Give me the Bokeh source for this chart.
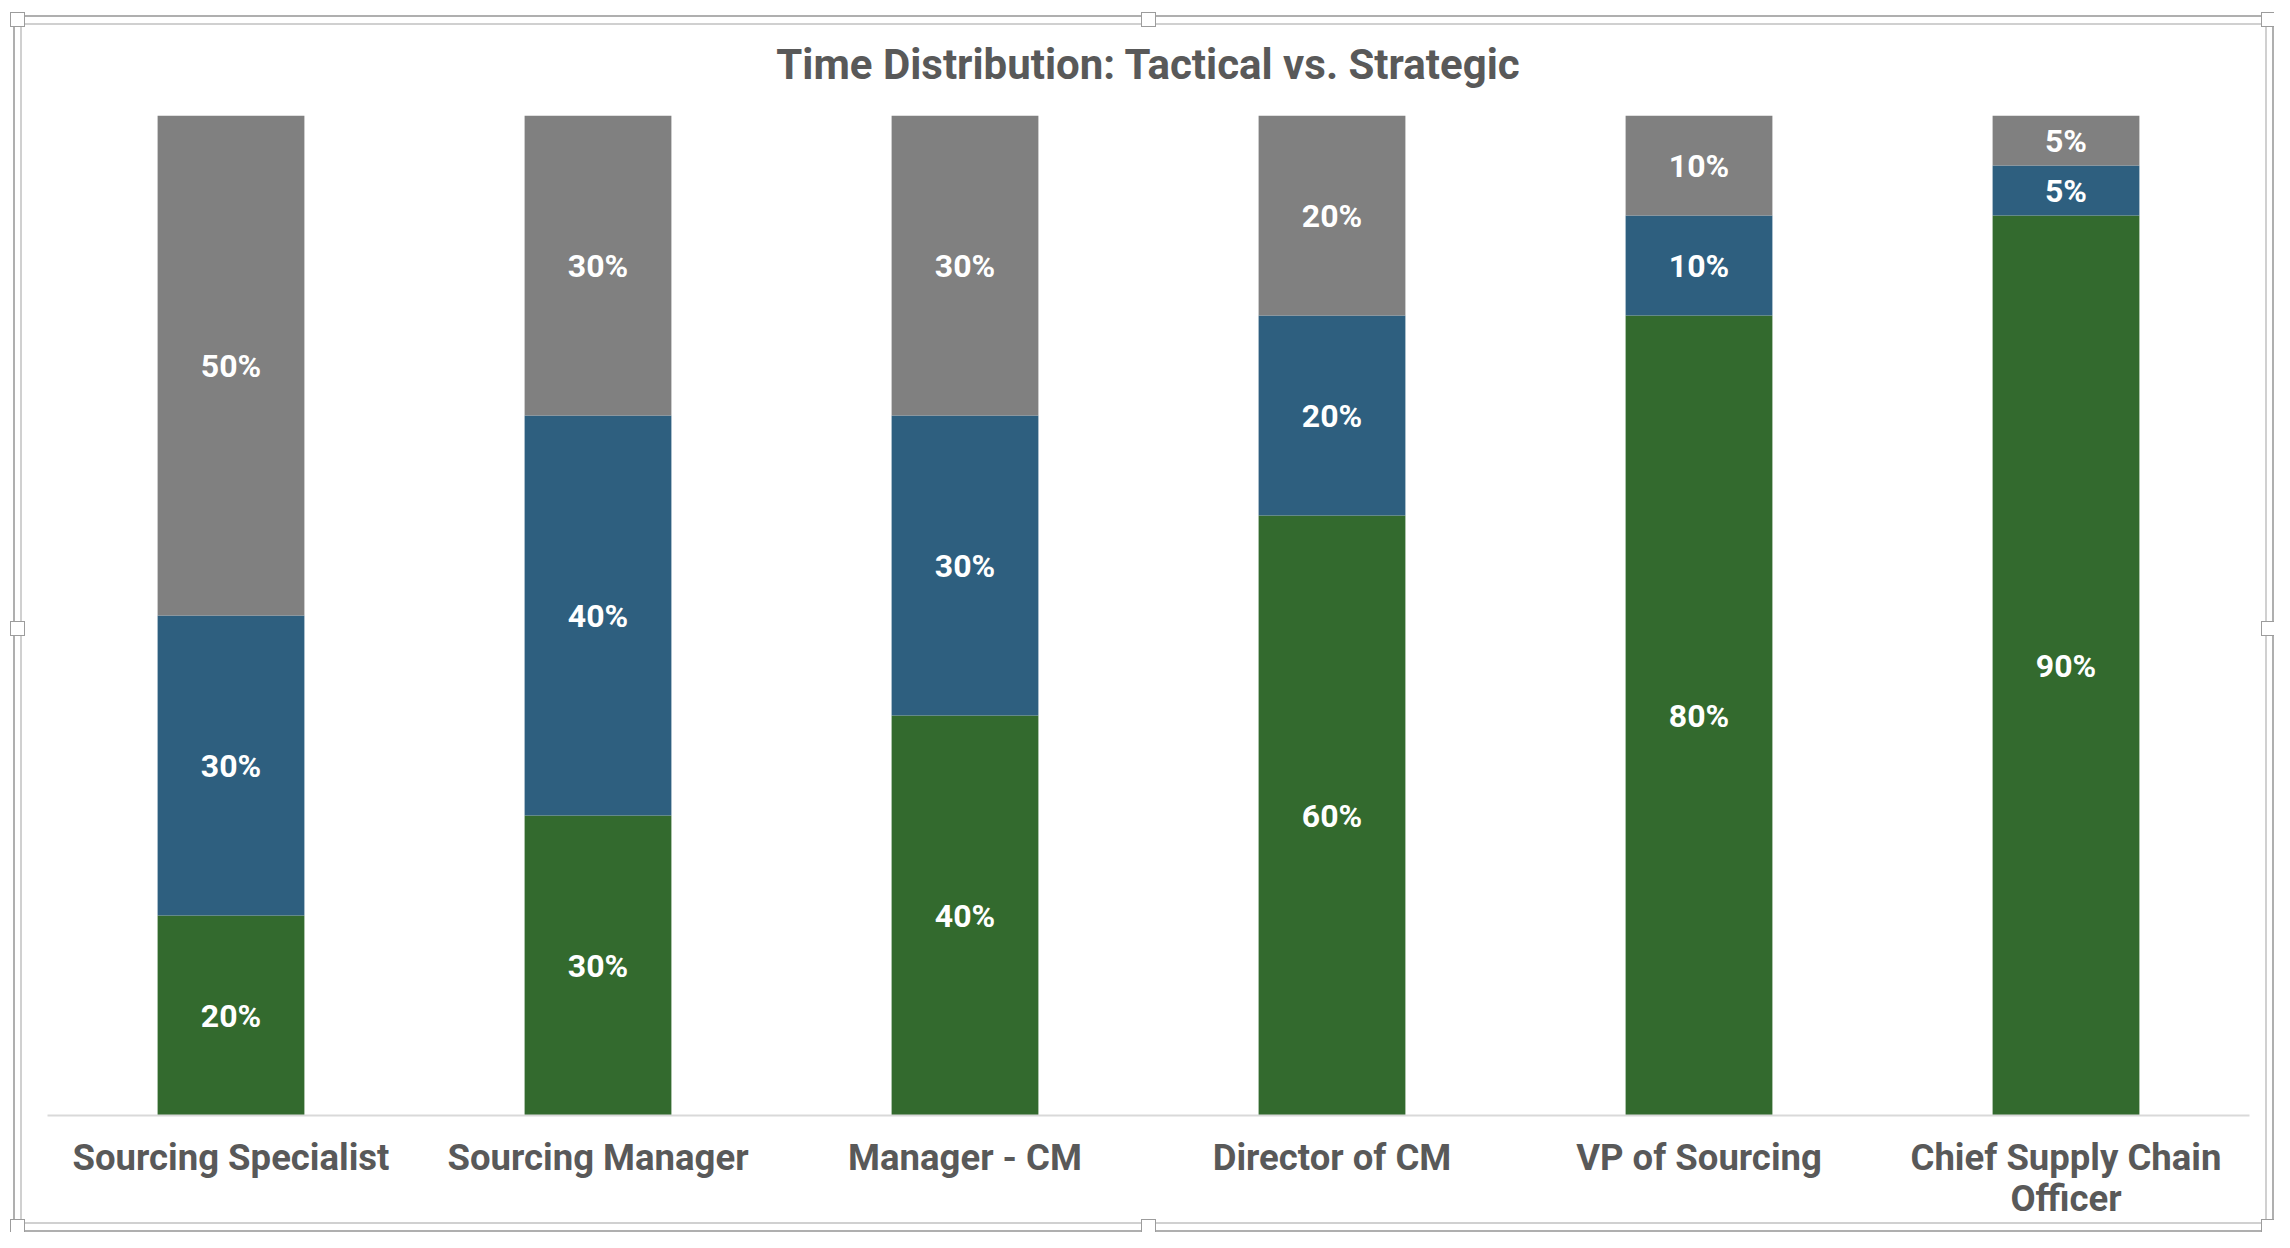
from bokeh.plotting import figure
from bokeh.models import ColumnDataSource, LabelSet, Range1d, FactorRange
from bokeh.core.properties import value
from bokeh.embed import file_html
from bokeh.resources import INLINE

# ---- data ----
roles = ["Sourcing Specialist", "Sourcing Manager", "Manager - CM",
         "Director of CM", "VP of Sourcing", "Chief Supply Chain\nOfficer"]
strategic = [20, 30, 40, 60, 80, 90]
mixed = [30, 40, 30, 20, 10, 5]
tactical = [50, 30, 30, 20, 10, 5]
series = ["strategic", "mixed", "tactical"]
colors = ["#336a2e", "#2e5f7f", "#808080"]
title_text = "Time Distribution: Tactical vs. Strategic"

FONT = "Roboto"
TEXT_COLOR = "#595959"
W, H = 2274, 1232

src = ColumnDataSource(dict(role=roles, strategic=strategic, mixed=mixed, tactical=tactical))

p = figure(x_range=FactorRange(*roles), y_range=Range1d(0, 100),
           width=W, height=H, output_backend="svg", toolbar_location=None,
           min_border_left=47, min_border_right=25, min_border_top=115, min_border_bottom=117,
           border_fill_alpha=0)

p.vbar_stack(series, x="role", width=0.4, color=colors, source=src, line_width=0)

# segment labels
lx, ly, lt = [], [], []
for i, r in enumerate(roles):
    base = 0
    for vals in (strategic, mixed, tactical):
        v = vals[i]
        lx.append(r)
        ly.append(base + v / 2)
        lt.append(f"{v}%")
        base += v
lsrc = ColumnDataSource(dict(x=lx, y=ly, t=lt))
p.add_layout(LabelSet(x="x", y="y", text="t", source=lsrc, text_color="white",
                      text_font=value(FONT), text_font_style="bold", text_font_size="32px",
                      text_align="center", text_baseline="middle"))

# title
p.title.text = title_text
p.title.align = "center"
p.title.text_font = FONT
p.title.text_font_style = "bold"
p.title.text_font_size = "42px"
p.title.text_color = TEXT_COLOR
p.title.standoff = 54

# axes / grid
p.yaxis.visible = False
p.xgrid.grid_line_color = None
p.ygrid.grid_line_color = None
p.outline_line_color = None
xa = p.xaxis[0]
xa.axis_line_color = "#d9d9d9"
xa.axis_line_width = 2
xa.major_tick_line_color = None
xa.minor_tick_line_color = None
xa.major_tick_out = 0
xa.major_label_standoff = 20
xa.major_label_text_font = FONT
xa.major_label_text_font_style = "bold"
xa.major_label_text_font_size = "36.5px"
xa.major_label_text_line_height = 0.96
xa.major_label_text_color = TEXT_COLOR

# selection-style double frame with handles, painted as CSS background layers
def layer(color, x, y, w, h):
    return f"linear-gradient({color},{color}) {x}px {y}px / {w}px {h}px no-repeat"

layers = []
hs = 15
handle_pts = [(17, 19), (1148, 19), (2268, 19), (17, 628), (2268, 628),
              (17, 1226), (1148, 1226), (2268, 1226)]
for cx, cy in handle_pts:
    layers.append(layer("#ffffff", cx - hs / 2 + 1, cy - hs / 2 + 1, hs - 2, hs - 2))
    layers.append(layer("#9c9c9c", cx - hs / 2, cy - hs / 2, hs, hs))
OUT, INN = "#afafaf", "#d0d0d0"
ol, ot, orr, ob = 13, 15, 2272, 1230
il, it, ir, ib = 20, 23, 2265, 1222
layers += [
    layer(OUT, ol, ot, orr - ol + 2, 2), layer(OUT, ol, ob, orr - ol + 2, 2),
    layer(OUT, ol, ot, 2, ob - ot + 2), layer(OUT, orr, ot, 2, ob - ot + 2),
    layer(INN, il, it, ir - il + 2, 2), layer(INN, il, ib, ir - il + 2, 2),
    layer(INN, il, it, 2, ib - it + 2), layer(INN, ir, it, 2, ib - it + 2),
]
p.styles = {"background": ", ".join(layers) + ", #ffffff"}

open("out.html", "w").write(file_html(p, INLINE))
